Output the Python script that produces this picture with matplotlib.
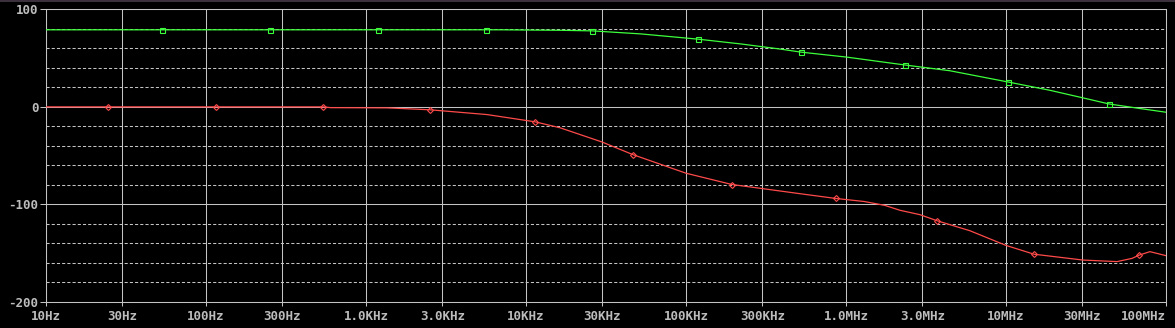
import numpy as np
import matplotlib
matplotlib.use("Agg")
import matplotlib.pyplot as plt
from matplotlib.lines import Line2D

# ---- data ----
green_freq = [10, 6.9e3, 1.63e4, 2.59e4, 5.2e4, 1.19e5, 2.2e5, 3.9e5, 5.23e5,
              1.01e6, 2.34e6, 4.47e6, 1.03e7, 1.88e7, 3.03e7, 4.4e7, 6.88e7, 1e8]
green_val = [79, 79, 78.5, 77.9, 74.8, 69.4, 64.5, 59.2, 56.1,
             51, 42.9, 37, 25.5, 17, 9.2, 3, -1.7, -5.5]
green_mark_freq = [53.1, 251, 1189, 5623, 2.59e4, 1.19e5, 5.23e5, 2.34e6, 1.03e7, 4.4e7]
green_mark_val = [79, 79, 79, 79, 77.9, 69.4, 56.1, 42.9, 25.5, 3]

red_freq = [10, 540, 600, 1353, 2512, 5705, 1.138e4, 1.63e4, 2.985e4, 4.666e4, 1e5,
            1.939e5, 2.985e5, 5.16e5, 8.66e5, 1.3e6, 1.75e6, 2.175e6, 2.9e6, 3.705e6,
            5.96e6, 1e7, 1.496e7, 3.02e7, 4.94e7, 6.13e7, 6.78e7, 7.94e7, 1e8]
red_val = [0, 0, -0.8, -1, -3, -7.9, -15.3, -21.4, -36, -49, -68,
           -79.6, -83.7, -89, -93.9, -97, -101, -106, -110.5, -116.7,
           -127, -142, -151, -157, -158.6, -155.3, -152, -148.4, -152.5]
red_mark_freq = [24.4, 115.5, 538.5, 2512, 1.138e4, 4.666e4, 1.939e5, 8.66e5,
                 3.705e6, 1.496e7, 6.78e7]
red_mark_val = [0, 0, 0, -3, -15.3, -49, -79.6, -93.9, -116.7, -151, -152]

x_ticks = [10, 30, 100, 300, 1e3, 3e3, 1e4, 3e4, 1e5, 3e5, 1e6, 3e6, 1e7, 3e7, 1e8]
x_labels = ["10Hz", "30Hz", "100Hz", "300Hz", "1.0KHz", "3.0KHz", "10KHz", "30KHz",
            "100KHz", "300KHz", "1.0MHz", "3.0MHz", "10MHz", "30MHz", "100MHz"]
y_ticks = [-200, -100, 0, 100]
y_labels = ["-200", "-100", "0", "100"]
y_minor = [-180, -160, -140, -120, -80, -60, -40, -20, 20, 40, 60, 80]

# ---- style ----
W, H = 1175, 328
BG = "black"
GRID = "#c4c4c4"
TXT = "#bcbcbc"
GREEN = "#3cff3c"
RED = "#ff4a4a"

fig = plt.figure(figsize=(W / 100, H / 100), dpi=100, facecolor=BG)
ax = fig.add_axes([46 / W, 1 - 302 / H, (1166 - 46) / W, (302 - 9.3) / H])
ax.set_facecolor(BG)
ax.set_xscale("log")
ax.set_xlim(10, 1e8)
ax.set_ylim(-200, 100)

lw = 0.75
# grid
for yv in y_minor:
    ax.axhline(yv, color=GRID, lw=lw, ls=(0, (3, 2)), zorder=1)
for yv in y_ticks:
    ax.axhline(yv, color=GRID, lw=lw, zorder=1)
for xv in x_ticks:
    ax.axvline(xv, color=GRID, lw=lw, zorder=1)

for s in ax.spines.values():
    s.set_color(GRID)
    s.set_linewidth(lw)

# curves
ax.plot(green_freq, green_val, color=GREEN, lw=0.9, zorder=3)
ax.plot(green_mark_freq, green_mark_val, ls="none", marker="s", ms=3.6,
        mfc="none", mec=GREEN, mew=0.8, zorder=4)
ax.plot(red_freq, red_val, color=RED, lw=0.9, zorder=3)
ax.plot(red_mark_freq, red_mark_val, ls="none", marker="D", ms=3.0,
        mfc="none", mec=RED, mew=0.8, zorder=4)

# ticks
font = dict(family="DejaVu Sans Mono", weight="bold", size=9)
ax.set_xticks(x_ticks)
ax.set_xticklabels(x_labels, color=TXT, **font)
ax.xaxis.set_minor_locator(matplotlib.ticker.NullLocator())
ax.set_yticks(y_ticks)
ax.set_yticklabels(y_labels, color=TXT, **font)
ax.tick_params(axis="x", length=3, width=lw, color=GRID, pad=3)
ax.tick_params(axis="y", length=4, width=lw, color=GRID, pad=1.5)
ax.xaxis.get_ticklabels()[-1].set_horizontalalignment("right")

# top border of window
fig.add_artist(Line2D([0, 1], [1 - 0.5 / H, 1 - 0.5 / H], color="#4a3a4a",
                      lw=1.2, transform=fig.transFigure))

fig.savefig("out.png", dpi=100, facecolor=BG)
